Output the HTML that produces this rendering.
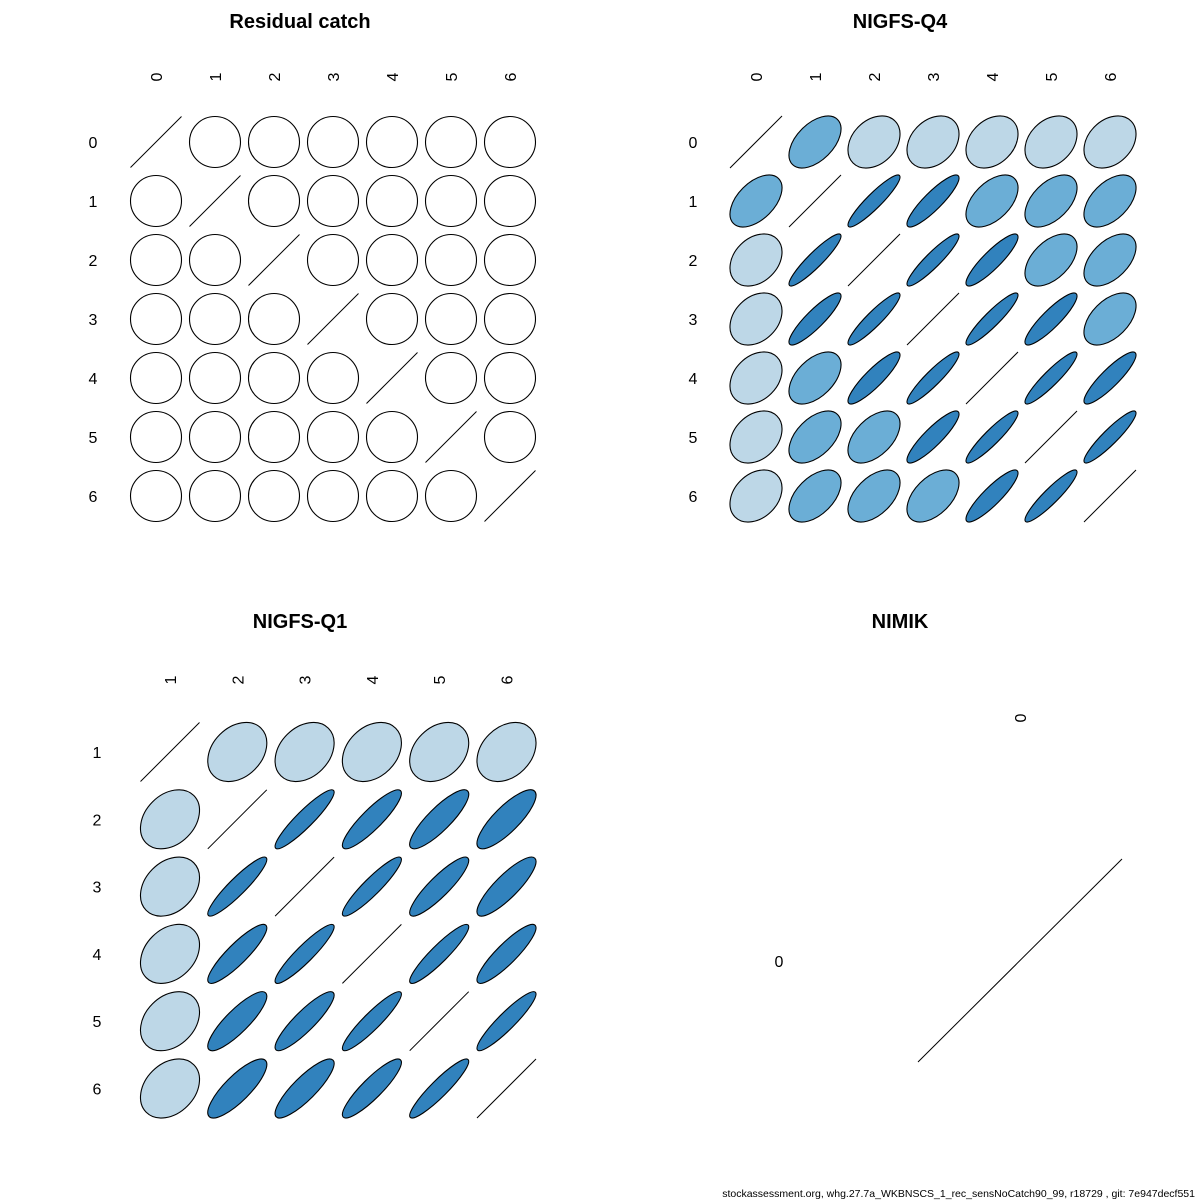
<!DOCTYPE html>
<html><head><meta charset="utf-8"><style>
body{margin:0;background:#fff;width:1200px;height:1200px;overflow:hidden}
svg{display:block}
text{font-family:"Liberation Sans",sans-serif;fill:#000}
</style></head><body>
<svg id="s" width="1200" height="1200" xmlns="http://www.w3.org/2000/svg">
<text x="300" y="28" font-size="20" font-weight="bold" text-anchor="middle">Residual catch</text>
<text x="900" y="28" font-size="20" font-weight="bold" text-anchor="middle">NIGFS-Q4</text>
<text x="300" y="628" font-size="20" font-weight="bold" text-anchor="middle">NIGFS-Q1</text>
<text x="900" y="628" font-size="20" font-weight="bold" text-anchor="middle">NIMIK</text>
<text x="1195" y="1197" font-size="10.5" text-anchor="end">stockassessment.org, whg.27.7a_WKBNSCS_1_rec_sensNoCatch90_99, r18729 , git: 7e947decf551</text>
<text x="779" y="967" font-size="16" text-anchor="middle">0</text>
<text transform="translate(1026,718) rotate(-90)" font-size="16" text-anchor="middle">0</text>
<line x1="918" y1="1062" x2="1122" y2="859" stroke="#000" stroke-width="1"/>
</svg>
<script>
var s=document.getElementById('s'),NS='http://www.w3.org/2000/svg';
function el(t,a){var e=document.createElementNS(NS,t);for(var k in a)e.setAttribute(k,a[k]);s.appendChild(e);return e;}
function txt(x,y,str,rot){var e=el('text',{'font-size':16,'text-anchor':'middle'});
 if(rot){e.setAttribute('transform','translate('+x+','+y+') rotate(-90)');}else{e.setAttribute('x',x);e.setAttribute('y',y);}
 e.textContent=str;}
var col={L:'#BDD7E7',M:'#6BAED6',D:'#3182BD',W:'#FFFFFF'};
var rv={L:0.3,M:0.5,W:0};
function panel(x0,y0,step,h,labels,rowLabX,colLabY,M){
 var n=labels.length;
 for(var i=0;i<n;i++){
  txt(x0+i*step+6,colLabY,labels[i],true);
  txt(rowLabX,y0+i*step+6,labels[i],false);
 }
 for(var i=0;i<n;i++)for(var j=0;j<n;j++){
  var cx=x0+j*step,cy=y0+i*step;
  if(i==j){el('line',{x1:cx-h,y1:cy+h,x2:cx+h,y2:cy-h,stroke:'#000','stroke-width':1});continue;}
  var c=M[i][j],r;
  if(c=='D'){r=0.92-0.035*(Math.abs(i-j)-1);}else r=rv[c];
  el('ellipse',{cx:cx,cy:cy,rx:h*Math.sqrt(1+r),ry:h*Math.sqrt(1-r),fill:col[c],stroke:'#000','stroke-width':1.1,transform:'rotate(-45 '+cx+' '+cy+')'});
 }
}
var W=[];for(var i=0;i<7;i++){W.push('WWWWWWW'.split(''));}
panel(156,142,59,25.5,['0','1','2','3','4','5','6'],93,77,W);
var Q4=['-MLLLLL','M-DDMMM','LD-DDMM','LDD-DDM','LMDD-DD','LMMDD-D','LMMMDD-'].map(function(r){return r.split('');});
panel(756,142,59,26,['0','1','2','3','4','5','6'],693,77,Q4);
var Q1=['-LLLLL','L-DDDD','LD-DDD','LDD-DD','LDDD-D','LDDDD-'].map(function(r){return r.split('');});
panel(170,752,67.3,29.5,['1','2','3','4','5','6'],97,680,Q1);
</script>
</body></html>
